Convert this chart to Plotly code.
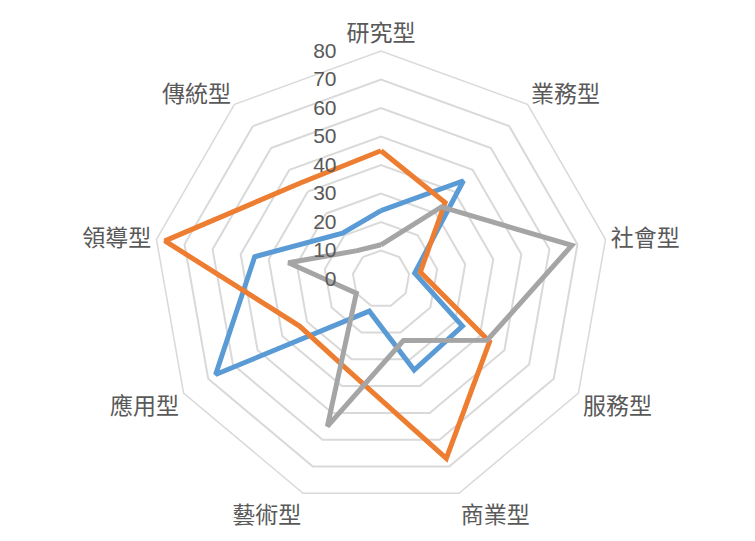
import plotly.graph_objects as go

categories = ["研究型", "業務型", "社會型", "服務型", "商業型", "藝術型", "應用型", "領導型", "傳統型"]
series_blue = [24, 45, 12, 33, 34, 12, 67, 45, 21]
series_orange = [45, 35, 14, 44, 67, 34, 33, 77, 44]
series_gray = [12, 33, 68, 43, 23, 55, 10, 33, 13]
tick_values = [0, 10, 20, 30, 40, 50, 60, 70, 80]

series = [
    ("系列1", series_blue, "#5B9BD5"),
    ("系列2", series_orange, "#ED7D31"),
    ("系列3", series_gray, "#A5A5A5"),
]

fig = go.Figure()
for name, vals, color in series:
    fig.add_trace(go.Scatterpolar(
        r=vals + vals[:1],
        theta=categories + categories[:1],
        mode="lines",
        name=name,
        line=dict(color=color, width=5),
        hoverinfo="r+theta",
    ))

# tick labels sit to the left of the vertical axis (padding keeps them right-aligned)
NBSP = "\u00a0"
tick_text = [str(v) + NBSP * 7 for v in tick_values]

W, H = 755, 541
cx, cy, R = 373, 271, 228
fig.update_layout(
    width=W, height=H,
    margin=dict(l=0, r=0, t=0, b=0),
    paper_bgcolor="white",
    plot_bgcolor="white",
    showlegend=False,
    font=dict(family="Noto Sans CJK TC, Noto Sans, sans-serif", color="#595959"),
    polar=dict(
        domain=dict(x=[(cx - R) / W, (cx + R) / W], y=[(H - cy - R) / H, (H - cy + R) / H]),
        bgcolor="white",
        gridshape="linear",
        angularaxis=dict(
            direction="clockwise",
            rotation=90,
            showgrid=False,
            showline=True,
            linecolor="#D9D9D9",
            linewidth=1.5,
            ticks="",
            tickfont=dict(size=23, color="#595959"),
        ),
        radialaxis=dict(
            range=[0, 80],
            tickvals=tick_values,
            ticktext=tick_text,
            angle=90,
            tickangle=90,
            side="counterclockwise",
            showline=False,
            ticks="",
            gridcolor="#D9D9D9",
            gridwidth=1.5,
            tickfont=dict(size=21, color="#595959", family="Liberation Sans, Arial, sans-serif"),
        ),
    ),
)

fig.write_html("out.html")
